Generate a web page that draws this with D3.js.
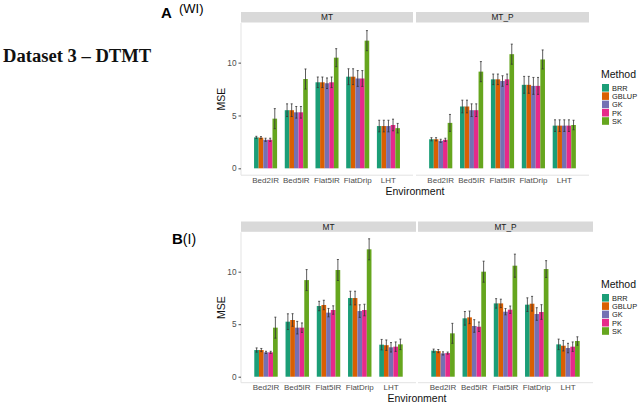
<!DOCTYPE html>
<html><head><meta charset="utf-8">
<script src="https://cdn.jsdelivr.net/npm/d3@7"></script>
<style>body{margin:0;background:#fff}svg{display:block}</style>
</head><body><svg id="c" width="644" height="404"></svg>
<script>
const methods = ["BRR","GBLUP","GK","PK","SK"];
const colors = ["#1B9E77","#D95F02","#7570B3","#E7298A","#66A61E"];
const envs = ["Bed2IR","Bed5IR","Flat5IR","FlatDrip","LHT"];
const facets = ["MT","MT_P"];
const yTicks = [0,5,10];

// mean MSE per environment (rows) and method (columns)
const A_MT = [[2.93,2.9,2.7,2.7,4.7],[5.5,5.5,5.3,5.3,8.45],[8.14,8.14,8.05,8.14,10.47],[8.67,8.67,8.5,8.5,12.08],[4.0,4.0,4.0,4.1,3.8]];
const A_MT_err = [[0.1,0.1,0.15,0.15,0.95],[0.6,0.6,0.55,0.55,0.95],[0.5,0.5,0.5,0.5,0.85],[0.75,0.75,0.75,0.75,0.95],[0.55,0.55,0.55,0.55,0.45]];
const A_MTP = [[2.75,2.75,2.6,2.7,4.3],[5.85,5.85,5.5,5.5,9.15],[8.42,8.42,8.26,8.42,10.8],[7.9,7.9,7.8,7.8,10.3],[4.04,4.04,4.04,4.04,4.1]];
const A_MTP_err = [[0.15,0.15,0.15,0.15,0.8],[0.6,0.6,0.6,0.6,0.95],[0.5,0.5,0.5,0.5,0.95],[0.8,0.8,0.8,0.8,0.9],[0.55,0.55,0.55,0.55,0.45]];
const B_MT = [[2.54,2.54,2.32,2.32,4.67],[5.24,5.4,4.67,4.67,9.2],[6.73,6.83,6.1,6.35,10.16],[7.49,7.49,6.25,6.35,12.13],[3.05,3.0,2.8,2.86,3.08]];
const B_MT_err = [[0.2,0.15,0.1,0.1,1.0],[0.75,0.6,0.6,0.45,1.0],[0.45,0.45,0.4,0.4,1.0],[0.65,0.65,0.6,0.55,1.0],[0.5,0.5,0.45,0.45,0.5]];
const B_MTP = [[2.48,2.44,2.22,2.25,4.13],[5.56,5.65,4.83,4.76,10.0],[6.98,6.98,6.19,6.38,10.57],[6.86,6.95,5.97,6.16,10.25],[3.08,2.95,2.73,2.86,3.4]];
const B_MTP_err = [[0.15,0.15,0.15,0.1,0.95],[0.65,0.6,0.6,0.45,1.0],[0.45,0.4,0.3,0.35,1.1],[0.65,0.7,0.6,0.7,0.8],[0.5,0.5,0.45,0.45,0.4]];

const svg = d3.select("#c");
const F = "'Liberation Sans', Arial, sans-serif";

svg.append("text").attr("x",3).attr("y",62).attr("font-family","'Liberation Serif', 'DejaVu Serif', serif")
  .attr("font-weight","bold").attr("font-size",18.6).attr("fill","#111").text("Dataset 3 – DTMT");

const charts = [
  {top:23, bottom:175.2, yMin:-0.65, stripTop:12, panels:[[241,413],[416,589]], data:[[A_MT,A_MT_err],[A_MTP,A_MTP_err]],
   legY:78, legX:601, envY:194.5, pad:2.5},
  {top:232.3, bottom:382.7, yMin:-0.57, stripTop:221.5, panels:[[241,416],[418,593]], data:[[B_MT,B_MT_err],[B_MTP,B_MTP_err]],
   legY:288, legX:601, envY:402, pad:1.5}
];

// panel labels
svg.append("text").attr("x",161).attr("y",18).attr("font-family",F).attr("font-weight","bold").attr("font-size",15).text("A");
svg.append("text").attr("x",179).attr("y",13).attr("font-family",F).attr("font-size",13).text("(WI)");
const bl = svg.append("text").attr("x",172).attr("y",244).attr("font-family",F).attr("font-size",15);
bl.append("tspan").attr("font-weight","bold").text("B");
bl.append("tspan").attr("font-size",14).text("(I)");

charts.forEach(ch => {
  const y = d3.scaleLinear().domain([ch.yMin,13.75]).range([ch.bottom, ch.top]);
  ch.panels.forEach((p,pi) => {
    const g = svg.append("g");
    const x = d3.scaleBand().domain(envs).range(p).paddingInner(0.25).paddingOuter(0.425);
    const xm = d3.scaleBand().domain(methods).range([0, x.bandwidth()]);
    // strip
    g.append("rect").attr("x",p[0]).attr("y",ch.stripTop).attr("width",p[1]-p[0]).attr("height",ch.top-ch.stripTop-0.5).attr("fill","#d9d9d9");
    g.append("text").attr("x",(p[0]+p[1])/2).attr("y",ch.stripTop+8.3).attr("text-anchor","middle")
      .attr("font-family",F).attr("font-size",8.3).attr("fill","#1a1a1a").text(facets[pi]);
    // axis lines (light)
    g.append("line").attr("x1",p[0]).attr("x2",p[1]).attr("y1",ch.bottom).attr("y2",ch.bottom).attr("stroke","#e3e3e3").attr("stroke-width",1);
    if (pi===0) g.append("line").attr("x1",p[0]).attr("x2",p[0]).attr("y1",ch.top).attr("y2",ch.bottom).attr("stroke","#e3e3e3").attr("stroke-width",1);
    const [means, errs] = ch.data[pi];
    envs.forEach((e,ei) => {
      methods.forEach((m,mi) => {
        const v = means[ei][mi], er = errs[ei][mi];
        const bx = x(e) + xm(m), bw = xm.bandwidth();
        g.append("rect").attr("x",bx).attr("y",y(v)).attr("width",bw).attr("height",y(0)-y(v)).attr("fill",colors[mi]);
        const cx = bx + bw/2;
        g.append("line").attr("x1",cx).attr("x2",cx).attr("y1",y(v+er)).attr("y2",y(v-er)).attr("stroke","#333").attr("stroke-width",0.8);
        [v+er, v-er].forEach(t => g.append("line").attr("x1",cx-1).attr("x2",cx+1).attr("y1",y(t)).attr("y2",y(t)).attr("stroke","#333").attr("stroke-width",0.8));
      });
    });
    // x axis labels
    const xa = g.append("g").attr("transform",`translate(0,${ch.bottom})`)
      .call(d3.axisBottom(x).tickSize(0).tickPadding(ch.pad));
    xa.select(".domain").remove();
    xa.selectAll("text").attr("font-family",F).attr("font-size",8).attr("fill","#4d4d4d");
    if (pi===0) {
      const ya = g.append("g").attr("transform",`translate(${p[0]},0)`)
        .call(d3.axisLeft(y).tickValues(yTicks).tickSize(2.5).tickPadding(2));
      ya.select(".domain").remove();
      ya.selectAll("line").attr("stroke","#4d4d4d");
      ya.selectAll("text").attr("font-family",F).attr("font-size",8.3).attr("fill","#4d4d4d");
    }
  });
  // axis titles
  const midY = (ch.top + ch.bottom)/2;
  svg.append("text").attr("transform",`translate(225,${midY}) rotate(-90)`).attr("text-anchor","middle")
    .attr("font-family",F).attr("font-size",10.5).attr("fill","#111").text("MSE");
  svg.append("text").attr("x",(ch.panels[0][0]+ch.panels[1][1])/2).attr("y",ch.envY).attr("text-anchor","middle")
    .attr("font-family",F).attr("font-size",10.5).attr("fill","#111").text("Environment");
  // legend
  const lg = svg.append("g");
  lg.append("text").attr("x",ch.legX).attr("y",ch.legY).attr("font-family",F).attr("font-size",10.5).attr("fill","#111").text("Method");
  methods.forEach((m,mi) => {
    const ky = ch.legY + 6 + mi*8.3;
    lg.append("rect").attr("x",ch.legX+1).attr("y",ky).attr("width",7).attr("height",7.6).attr("fill",colors[mi]);
    lg.append("text").attr("x",ch.legX+11).attr("y",ky+6.6).attr("font-family",F).attr("font-size",7.4).attr("fill","#1a1a1a").text(m);
  });
});
</script></body></html>
